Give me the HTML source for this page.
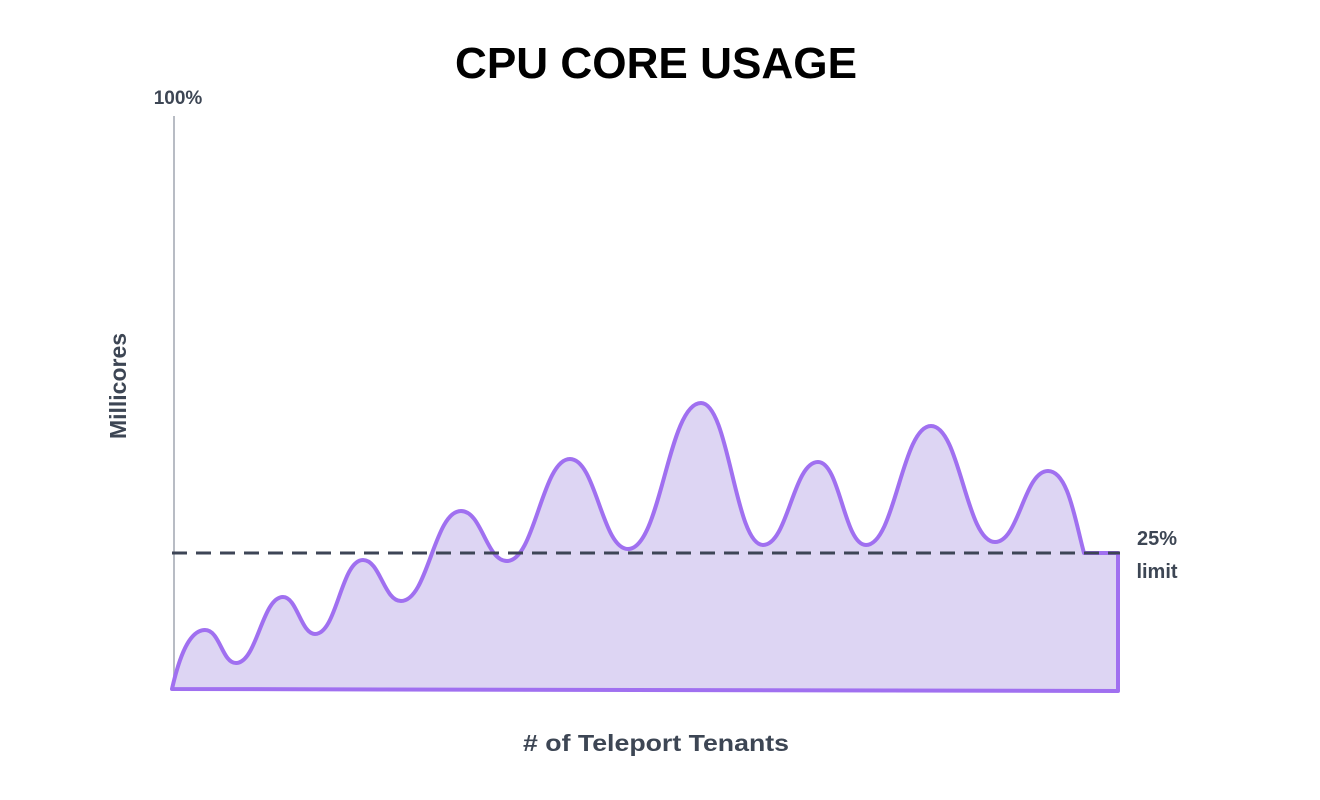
<!DOCTYPE html>
<html><head><meta charset="utf-8"><style>
html,body{margin:0;padding:0;background:#fff;}
svg{display:block;}
</style></head><body>
<svg width="1320" height="800" viewBox="0 0 1320 800" xmlns="http://www.w3.org/2000/svg">
<text x="656" y="78" text-anchor="middle" font-family="Liberation Sans, sans-serif" font-weight="bold" font-size="44" fill="#000" textLength="402" lengthAdjust="spacingAndGlyphs">CPU CORE USAGE</text>
<text x="178" y="104" text-anchor="middle" font-family="Liberation Sans, sans-serif" font-weight="bold" font-size="19" fill="#3d4654">100%</text>
<line x1="174" y1="116" x2="174" y2="690" stroke="#b8bcc4" stroke-width="2"/>
<text transform="translate(126,386) rotate(-90)" text-anchor="middle" font-family="Liberation Sans, sans-serif" font-weight="bold" font-size="23" fill="#3d4654">Millicores</text>
<path d="M172,689 C179,658 189,630 205,630 C220,630 222,663 236,663 C257,663 262,597 283,597 C297,597 301,634 315,634 C337,634 341,560 363,560 C380,560 384,601 401,601 C428,601 434,511 461,511 C482,511 486,561 507,561 C535,561 542,459 570,459 C596,459 602,549 628,549 C661,549 668,403 701,403 C729,403 735,545 763,545 C788,545 793,462 818,462 C840,462 844,545 866,545 C895,545 902,426 931,426 C960,426 966,542 995,542 C1019,542 1024,471 1048,471 C1068,471 1075,520 1084,553 L1118,553 L1118,691 L172,689 Z" fill="#ddd5f3" stroke="#a070f0" stroke-width="4" stroke-linejoin="round"/>
<line x1="172" y1="553" x2="1120" y2="553" stroke="#3d4556" stroke-width="3" stroke-dasharray="15,9"/>
<text x="1157" y="545" text-anchor="middle" font-family="Liberation Sans, sans-serif" font-weight="bold" font-size="20" fill="#3d4654">25%</text>
<text x="1157" y="578" text-anchor="middle" font-family="Liberation Sans, sans-serif" font-weight="bold" font-size="20" fill="#3d4654">limit</text>
<text x="656" y="751" text-anchor="middle" font-family="Liberation Sans, sans-serif" font-weight="bold" font-size="23" fill="#3d4654" textLength="266" lengthAdjust="spacingAndGlyphs"># of Teleport Tenants</text>
</svg>
</body></html>
